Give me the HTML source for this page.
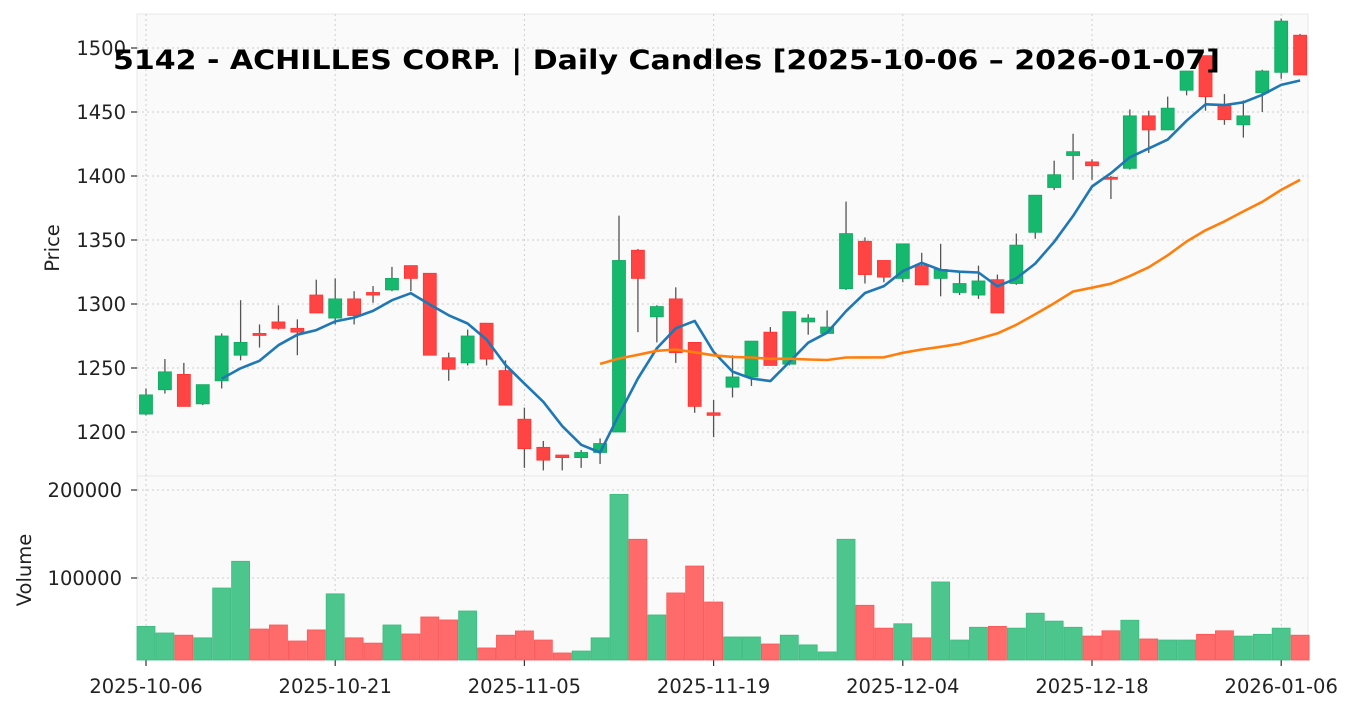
<!DOCTYPE html>
<html><head><meta charset="utf-8"><style>
body{margin:0;background:#fff;}
svg{display:block;font-family:"DejaVu Sans","Liberation Sans",sans-serif;}
</style></head><body>
<svg id="c" width="1357" height="711"></svg>
<script>
const dates=["2025-10-06","2025-10-21","2025-11-05","2025-11-19","2025-12-04","2025-12-18","2026-01-06"];
const dateIdx=[0,10,20,30,40,50,60];
const opens=[1214,1233,1245,1222,1240,1260,1277,1286,1281,1307,1289,1304,1309,1311,1330,1324,1258,1254,1285,1248,1210,1188,1182,1180,1184,1200,1342,1290,1304,1270,1215,1235,1243,1278,1253,1286,1277,1312,1349,1334,1320,1330,1320,1309,1307,1319,1316,1356,1391,1416,1411,1399,1406,1447,1436,1467,1494,1455,1440,1465,1481,1510];
const closes=[1229,1247,1220,1237,1275,1270,1276,1281,1278,1293,1304,1291,1307,1320,1320,1260,1249,1275,1257,1221,1187,1178,1180,1184,1191,1334,1320,1298,1262,1220,1213,1243,1271,1252,1294,1289,1282,1355,1323,1321,1347,1315,1327,1316,1318,1293,1346,1385,1401,1419,1408,1398,1447,1436,1453,1482,1462,1444,1447,1482,1521,1479];
const highs=[1234,1257,1254,1237,1277,1303,1284,1299,1288,1319,1320,1310,1314,1329,1330,1324,1262,1280,1285,1256,1219,1193,1182,1186,1195,1369,1343,1299,1313,1270,1225,1260,1271,1282,1294,1292,1295,1380,1352,1334,1347,1340,1347,1325,1330,1323,1355,1385,1412,1433,1413,1400,1452,1451,1462,1482,1494,1464,1459,1483,1523,1511];
const lows=[1213,1230,1220,1221,1234,1256,1266,1280,1260,1293,1284,1284,1301,1310,1310,1260,1240,1252,1252,1221,1172,1170,1170,1172,1175,1200,1278,1270,1254,1215,1196,1227,1236,1252,1252,1276,1277,1311,1316,1317,1317,1315,1306,1307,1304,1293,1315,1351,1389,1397,1397,1382,1405,1418,1436,1463,1451,1440,1430,1450,1476,1479];
const volumes=[45000,37500,35000,32000,88600,119000,42000,46600,28400,41000,82000,32000,26000,46600,36400,55700,52300,62500,20500,35000,39800,29500,14800,17000,32000,195000,144000,58000,83000,113600,72700,33000,33000,25000,35000,24000,16000,144000,69000,43000,48000,32000,95500,29500,44000,45000,43000,60000,51000,44000,34000,40000,52000,30700,29500,29500,36000,40000,34000,36000,43000,35000];
const priceTicks=[1200,1250,1300,1350,1400,1450,1500];
const volTicks=[100000,200000];

const NS="http://www.w3.org/2000/svg";
const svg=document.getElementById('c');
function mk(t,a,p){const e=document.createElementNS(NS,t);for(const k in a)e.setAttribute(k,a[k]);(p||svg).appendChild(e);return e;}
const L=137,R=1308,PT=14,PB=476,VT=476,VB=660;
const x=i=>146+i*18.92;
const py=p=>432-(p-1200)*1.28;
const vy=v=>666-v*0.00088;
const bw=13;
const FS=19.5;

mk('rect',{x:L,y:PT,width:R-L,height:PB-PT,fill:'#fafafa',stroke:'#e8e8e8'});
mk('rect',{x:L,y:VT,width:R-L,height:VB-VT,fill:'#fafafa',stroke:'#e8e8e8'});
const grid={stroke:'#cfcfcf','stroke-dasharray':'2,3','stroke-width':1};
dateIdx.forEach((d,k)=>{
  const g=mk('line',Object.assign({x1:x(d),x2:x(d),y1:PT,y2:VB},grid));
  
  
  mk('line',{x1:x(d),x2:x(d),y1:VB,y2:VB+6,stroke:'#333','stroke-width':1.2});
  const t=mk('text',{x:x(d),y:693,'text-anchor':'middle','font-size':FS,fill:'#222'});
  t.textContent=dates[k];
  
  
});
priceTicks.forEach(p=>{
  mk('line',Object.assign({x1:L,x2:R,y1:py(p),y2:py(p)},grid));
  mk('line',{x1:L-6,x2:L,y1:py(p),y2:py(p),stroke:'#333','stroke-width':1.2});
  const t=mk('text',{x:126,y:py(p)+7,'text-anchor':'end','font-size':FS,fill:'#222'});
  t.textContent=p;
  
  
});
volTicks.forEach(v=>{
  mk('line',Object.assign({x1:L,x2:R,y1:vy(v),y2:vy(v)},grid));
  mk('line',{x1:L-6,x2:L,y1:vy(v),y2:vy(v),stroke:'#333','stroke-width':1.2});
  const t=mk('text',{x:122,y:vy(v)+7,'text-anchor':'end','font-size':FS,fill:'#222'});
  t.textContent=v;
  
  
});
volumes.forEach((v,i)=>{
  const up=closes[i]>=opens[i];
  const top=vy(v);
  const r=mk('rect',{x:x(i)-9,y:top,width:18,height:Math.max(0,VB-top),fill:up?'#4cc68d':'#ff6b6b',stroke:up?'#3dbb80':'#f55',"stroke-width":0.8});
  
  
});
opens.forEach((o,i)=>{
  const c=closes[i],up=c>=o;
  const w=mk('line',{x1:x(i),x2:x(i),y1:py(highs[i]),y2:py(lows[i]),stroke:'#555','stroke-width':1.3});
  
  
  const t=py(Math.max(o,c)),b=py(Math.min(o,c));
  const r=mk('rect',{x:x(i)-bw/2,y:t,width:bw,height:Math.max(2,b-t),fill:up?'#16b86e':'#ff4444',stroke:up?'#13a862':'#f33','stroke-width':0.8});
  
  
});
function sma(n,color,name){
  let pts=[];
  for(let i=n-1;i<closes.length;i++){let s=0;for(let j=i-n+1;j<=i;j++)s+=closes[j];pts.push(x(i).toFixed(1)+','+py(s/n).toFixed(1));}
  const l=mk('polyline',{points:pts.join(' '),fill:'none',stroke:color,'stroke-width':2.6,'stroke-linejoin':'round'});
  
  
}
sma(5,'#1f77b4','sma-5-line');
sma(25,'#ff7f0e','sma-25-line');

let t=mk('text',{x:113,y:69,'font-size':27,'font-weight':'bold',fill:'#000',textLength:1107,lengthAdjust:'spacingAndGlyphs'});
t.textContent='5142 - ACHILLES CORP. | Daily Candles [2025-10-06 – 2026-01-07]';


t=mk('text',{x:0,y:0,'text-anchor':'middle','font-size':FS,fill:'#222',transform:'translate(59,248) rotate(-90)'});
t.textContent='Price';


t=mk('text',{x:0,y:0,'text-anchor':'middle','font-size':FS,fill:'#222',transform:'translate(31,570) rotate(-90)'});
t.textContent='Volume';


</script>
</body></html>
